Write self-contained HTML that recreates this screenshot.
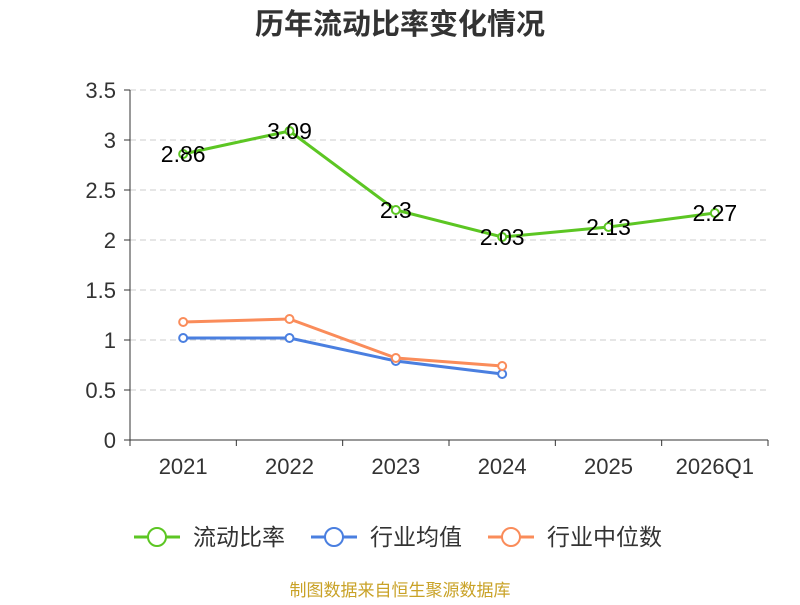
<!DOCTYPE html>
<html><head><meta charset="utf-8"><style>
body{margin:0;background:#fff;font-family:"Liberation Sans","Noto Sans CJK SC",sans-serif;}
</style></head><body>
<svg width="800" height="600" xmlns="http://www.w3.org/2000/svg" id="chart">
<text x="400" y="34" text-anchor="middle" font-size="29" font-weight="bold" fill="#333" font-family="Liberation Sans,Noto Sans CJK SC,sans-serif">历年流动比率变化情况</text>
<g id="grid"></g><g id="axes"></g><g id="series"></g>
<g id="legend" font-size="23" fill="#333" font-family="Liberation Sans,Noto Sans CJK SC,sans-serif">
<g><line x1="134" y1="537" x2="180" y2="537" stroke="#5cc623" stroke-width="3"/><circle cx="157" cy="537" r="9" fill="#fff" stroke="#5cc623" stroke-width="2"/><text x="193" y="545">流动比率</text></g>
<g><line x1="311" y1="537" x2="357" y2="537" stroke="#4a7fe0" stroke-width="3"/><circle cx="334" cy="537" r="9" fill="#fff" stroke="#4a7fe0" stroke-width="2"/><text x="370" y="545">行业均值</text></g>
<g><line x1="488" y1="537" x2="534" y2="537" stroke="#fa8c5a" stroke-width="3"/><circle cx="511" cy="537" r="9" fill="#fff" stroke="#fa8c5a" stroke-width="2"/><text x="547" y="545">行业中位数</text></g>
</g>
<text x="400" y="596" text-anchor="middle" font-size="17" fill="#c9a227" font-family="Liberation Sans,Noto Sans CJK SC,sans-serif">制图数据来自恒生聚源数据库</text>
</svg>
<script>
const categories=["2021","2022","2023","2024","2025","2026Q1"];
const currentRatio=[2.86,3.09,2.3,2.03,2.13,2.27];
const industryAvg=[1.02,1.02,0.79,0.66];
const industryMedian=[1.18,1.21,0.82,0.74];
const yTicks=[0,0.5,1,1.5,2,2.5,3,3.5];
const NS="http://www.w3.org/2000/svg";
const x0=130,x1=768,y0=440,y1=90,yMax=3.5;
const bw=(x1-x0)/categories.length;
const xs=i=>x0+bw*(i+0.5);
const ys=v=>y0-(v/yMax)*(y0-y1);
function mk(t,a,p){const e=document.createElementNS(NS,t);for(const k in a)e.setAttribute(k,a[k]);p.appendChild(e);return e;}
const grid=document.getElementById('grid'),axes=document.getElementById('axes'),ser=document.getElementById('series');
yTicks.forEach(v=>{
 if(v>0){const g=mk('line',{x1:x0,x2:x1,y1:ys(v),y2:ys(v),stroke:'#ccc','stroke-dasharray':'6,4'},grid);
 
 }
 mk('line',{x1:x0-6,x2:x0,y1:ys(v),y2:ys(v),stroke:'#333'},axes);
 const t=mk('text',{x:x0-14,y:ys(v)+8,'text-anchor':'end','font-size':22,fill:'#333'},axes);t.textContent=v;
 
 
});
mk('line',{x1:x0,x2:x0,y1:y1,y2:y0,stroke:'#333'},axes);
mk('line',{x1:x0,x2:x1,y1:y0,y2:y0,stroke:'#333'},axes);
for(let i=0;i<=categories.length;i++)mk('line',{x1:x0+bw*i,x2:x0+bw*i,y1:y0,y2:y0+6,stroke:'#333'},axes);
categories.forEach((c,i)=>{const t=mk('text',{x:xs(i),y:y0+34,'text-anchor':'middle','font-size':22,fill:'#333'},axes);t.textContent=c;
 
 });
function series(vals,color,name,labels,r){
 const p=mk('polyline',{points:vals.map((v,i)=>xs(i)+','+ys(v)).join(' '),fill:'none',stroke:color,'stroke-width':3},ser);
 
 
 vals.forEach((v,i)=>{const c=mk('circle',{cx:xs(i),cy:ys(v),r:r,fill:'#fff',stroke:color,'stroke-width':2},ser);
  
  
  if(labels){const t=mk('text',{x:xs(i),y:ys(v)+8,'text-anchor':'middle','font-size':23,fill:'#000'},ser);t.textContent=v;
   
   }
 });
}
series(industryAvg,'#4a7fe0','industry-average',false,4);
series(industryMedian,'#fa8c5a','industry-median',false,4);
series(currentRatio,'#5cc623','current-ratio',true,4);
</script>
</body></html>
